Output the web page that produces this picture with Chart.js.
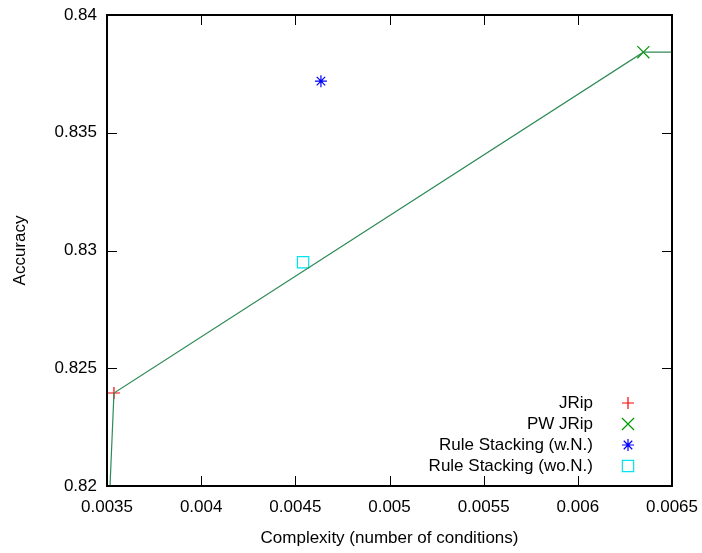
<!DOCTYPE html>
<html>
<head>
<meta charset="utf-8">
<script src="https://cdn.jsdelivr.net/npm/chart.js@4"></script>
<style>
  html, body { margin: 0; padding: 0; background: #fff; }
  #wrap { width: 702px; height: 553px; }
</style>
</head>
<body>
<div id="wrap"><canvas id="chart" width="702" height="553"></canvas></div>
<script>
// data
const seriesNames = ['JRip', 'PW JRip', 'Rule Stacking (w.N.)', 'Rule Stacking (wo.N.)'];
const complexity = [0.003537, 0.006348, 0.004636, 0.004541];
const accuracy = [0.82395, 0.83842, 0.83719, 0.82950];
const frontX = [0.003516, 0.003537, 0.006348, 0.0065];
const frontY = [0.82, 0.82395, 0.83842, 0.83842];
const xTicks = [0.0035, 0.004, 0.0045, 0.005, 0.0055, 0.006, 0.0065];
const yTicks = [0.82, 0.825, 0.83, 0.835, 0.84];

const colors = ['#ff0000', '#009a00', '#0000ff', '#00e5ee'];
const styles = ['cross', 'crossRot', 'star', 'rect'];
const sizes = [6, 8.5, 6, 8];
const FONT = 'Liberation Sans, Arial, sans-serif';

const datasets = seriesNames.map((name, i) => ({
  label: name,
  data: [{ x: complexity[i], y: accuracy[i] }],
  pointStyle: styles[i],
  radius: sizes[i],
  borderColor: colors[i],
  backgroundColor: 'rgba(0,0,0,0)',
  borderWidth: 1.2,
  showLine: false
}));
datasets.unshift({
  label: 'front',
  data: frontX.map((x, i) => ({ x: x, y: frontY[i] })),
  showLine: true,
  borderColor: '#2e8b57',
  borderWidth: 1.2,
  pointRadius: 0,
  fill: false
});

// gnuplot style border, inward ticks on all sides
const frame = {
  id: 'frame',
  afterDatasetsDraw(chart) {
    const { ctx, chartArea: a, scales } = chart;
    ctx.save();
    ctx.strokeStyle = '#000';
    ctx.lineWidth = 1;
    const len = 10;
    xTicks.forEach(v => {
      const px = Math.round(scales.x.getPixelForValue(v)) + 0.5;
      ctx.beginPath();
      ctx.moveTo(px, a.bottom); ctx.lineTo(px, a.bottom - len);
      ctx.moveTo(px, a.top); ctx.lineTo(px, a.top + len);
      ctx.stroke();
    });
    yTicks.forEach(v => {
      const py = Math.round(scales.y.getPixelForValue(v)) + 0.5;
      ctx.beginPath();
      ctx.moveTo(a.left, py); ctx.lineTo(a.left + len, py);
      ctx.moveTo(a.right, py); ctx.lineTo(a.right - len, py);
      ctx.stroke();
    });
    ctx.lineWidth = 2;
    ctx.strokeRect(a.left, a.top, a.right - a.left, a.bottom - a.top);

    // key: text right-aligned, sample to the right
    ctx.font = '17px ' + FONT;
    ctx.textAlign = 'right';
    ctx.textBaseline = 'middle';
    const textRight = a.right - 79;
    const markX = a.right - 44;
    seriesNames.forEach((name, i) => {
      const y = a.bottom - 83 + i * 21;
      ctx.fillStyle = '#000';
      ctx.fillText(name, textRight, y);
      ctx.lineWidth = 1.2;
      ctx.strokeStyle = colors[i];
      ctx.fillStyle = 'rgba(0,0,0,0)';
      Chart.helpers.drawPoint(ctx, { pointStyle: styles[i], radius: sizes[i], borderWidth: 1.2 }, markX, y);
    });
    ctx.restore();
  }
};

new Chart(document.getElementById('chart'), {
  type: 'scatter',
  data: { datasets: datasets },
  options: {
    responsive: false,
    animation: false,
    layout: { padding: { left: 0, right: 30, top: 15, bottom: 0 } },
    plugins: { legend: { display: false }, tooltip: { enabled: false } },
    scales: {
      x: {
        type: 'linear',
        min: 0.0035, max: 0.0065,
        afterBuildTicks: s => { s.ticks = xTicks.map(v => ({ value: v })); },
        afterFit: s => { s.height = 67; s.paddingLeft = 0; s.paddingRight = 0; },
        grid: { display: false, drawTicks: false },
        border: { display: false },
        ticks: { color: '#000', font: { family: FONT, size: 17 }, padding: 11, maxRotation: 0,
                 callback: v => String(+v.toFixed(5)) },
        title: { display: true, text: 'Complexity (number of conditions)', color: '#000',
                 font: { family: FONT, size: 17 }, padding: { top: 8 } }
      },
      y: {
        type: 'linear',
        min: 0.82, max: 0.84,
        afterBuildTicks: s => { s.ticks = yTicks.map(v => ({ value: v })); },
        afterFit: s => { s.width = 107; s.paddingTop = 0; s.paddingBottom = 0; },
        grid: { display: false, drawTicks: false },
        border: { display: false },
        ticks: { color: '#000', font: { family: FONT, size: 17 }, padding: 10,
                 callback: v => String(+v.toFixed(4)) },
        title: { display: true, text: 'Accuracy', color: '#000',
                 font: { family: FONT, size: 17 }, padding: { top: 10 } }
      }
    }
  },
  plugins: [frame]
});
</script>
</body>
</html>
